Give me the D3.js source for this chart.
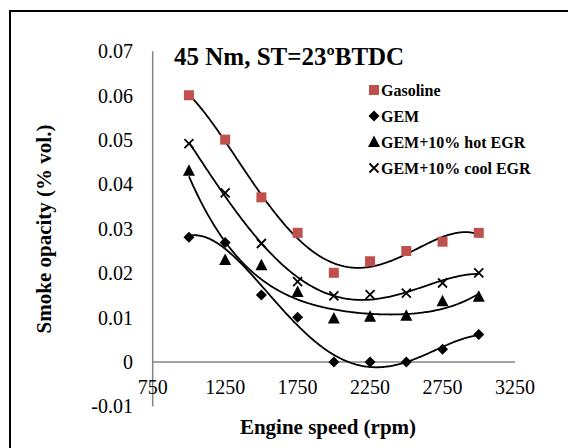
<!DOCTYPE html>
<html><head><meta charset="utf-8">
<script src="https://cdn.jsdelivr.net/npm/d3@7"></script>
<style>
html,body{margin:0;padding:0;background:#fff;}
svg{display:block;font-family:"Liberation Serif","Times New Roman",serif;}
</style></head>
<body><svg id="c" width="568" height="448"></svg>
<script>
const speeds = [1000,1250,1500,1750,2000,2250,2500,2750,3000];
const gasoline = [0.0601,0.0501,0.0371,0.0291,0.0201,0.0227,0.0250,0.0271,0.0291];
const gem      = [0.0281,0.0269,0.0151,0.0101,0.0000,0.0000,0.0000,0.0029,0.0062];
const hotEGR   = [0.0431,0.0230,0.0218,0.0158,0.0098,0.0102,0.0104,0.0137,0.0147];
const coolEGR  = [0.0492,0.0381,0.0267,0.0181,0.0149,0.0152,0.0155,0.0178,0.0201];
const seriesNames = ["Gasoline","GEM","GEM+10% hot EGR","GEM+10% cool EGR"];
const xTicks = [750,1250,1750,2250,2750,3250];
const yTicks = [-0.01,0,0.01,0.02,0.03,0.04,0.05,0.06,0.07];
const yTickLabels = ["-0.01","0","0.01","0.02","0.03","0.04","0.05","0.06","0.07"];
const title = "45 Nm, ST=23ºBTDC";
const xTitle = "Engine speed (rpm)";
const yTitle = "Smoke opacity (% vol.)";

const series = [
  {name:seriesNames[0], values:gasoline, marker:"square", color:"#C0504D"},
  {name:seriesNames[1], values:gem, marker:"diamond", color:"#000"},
  {name:seriesNames[2], values:hotEGR, marker:"triangle", color:"#000"},
  {name:seriesNames[3], values:coolEGR, marker:"cross", color:"#000"}
];

const svg = d3.select("#c");
svg.append("rect").attr("x",10).attr("y",11).attr("width",700).attr("height",600)
  .attr("fill","none").attr("stroke","#000").attr("stroke-width",2);

const x = d3.scaleLinear().domain([750,3250]).range([152.7,515]);
const y = d3.scaleLinear().domain([-0.01,0.07]).range([406.4,51.3]);

// axes
svg.append("line").attr("x1",x(750)).attr("x2",x(750)).attr("y1",y(0.07)).attr("y2",y(-0.01))
  .attr("stroke","#868686").attr("stroke-width",1.5);
svg.append("line").attr("x1",x(750)).attr("x2",x(3250)).attr("y1",y(0)).attr("y2",y(0))
  .attr("stroke","#868686").attr("stroke-width",1.5);

svg.selectAll(".yl").data(yTicks).enter().append("text")
  .attr("x",133).attr("y",d=>y(d)).attr("dy","0.35em").attr("text-anchor","end")
  .attr("font-size",20).text((d,i)=>yTickLabels[i]);
svg.selectAll(".xl").data(xTicks).enter().append("text")
  .attr("x",d=>x(d)).attr("y",394).attr("text-anchor","middle")
  .attr("font-size",20).text(d=>d);

svg.append("text").attr("x",328).attr("y",434).attr("text-anchor","middle")
  .attr("font-size",21).attr("font-weight","bold").text(xTitle);
svg.append("text").attr("transform","translate(51,229) rotate(-90)").attr("text-anchor","middle")
  .attr("font-size",21).attr("font-weight","bold").text(yTitle);
svg.append("text").attr("x",174).attr("y",65).attr("font-size",25).attr("font-weight","bold").text(title);

// polynomial least squares fit
function polyfit(xs, ys, order){
  const m = d3.mean(xs), s = d3.deviation(xs);
  const t = xs.map(v=>(v-m)/s);
  const n = order+1;
  const A = Array.from({length:n},()=>new Array(n+1).fill(0));
  for(let r=0;r<n;r++){
    for(let c=0;c<n;c++) A[r][c] = d3.sum(t, v=>Math.pow(v,r+c));
    A[r][n] = d3.sum(t, (v,i)=>Math.pow(v,r)*ys[i]);
  }
  for(let i=0;i<n;i++){
    let p=i; for(let k=i+1;k<n;k++) if(Math.abs(A[k][i])>Math.abs(A[p][i])) p=k;
    [A[i],A[p]]=[A[p],A[i]];
    for(let k=i+1;k<n;k++){ const f=A[k][i]/A[i][i]; for(let j=i;j<=n;j++) A[k][j]-=f*A[i][j]; }
  }
  const c=new Array(n).fill(0);
  for(let i=n-1;i>=0;i--){ let sm=A[i][n]; for(let j=i+1;j<n;j++) sm-=A[i][j]*c[j]; c[i]=sm/A[i][i]; }
  return v=>{ const tt=(v-m)/s; let r=0; for(let i=n-1;i>=0;i--) r=r*tt+c[i]; return r; };
}

const line = d3.line().x(d=>x(d[0])).y(d=>y(d[1])).curve(d3.curveLinear);
const fine = d3.range(1000,3000.1,10);
series.forEach(sr=>{
  const f = polyfit(speeds, sr.values, 4);
  svg.append("path").attr("d", line(fine.map(v=>[v,f(v)])))
    .attr("fill","none").attr("stroke","#000").attr("stroke-width",1.8);
});

function drawMarker(g, type, cx, cy, color){
  if(type==="square") g.append("rect").attr("x",cx-5).attr("y",cy-5).attr("width",10).attr("height",10).attr("fill",color);
  else if(type==="diamond") g.append("path").attr("d",`M${cx},${cy-5.5}L${cx+5.5},${cy}L${cx},${cy+5.5}L${cx-5.5},${cy}Z`).attr("fill",color);
  else if(type==="triangle") g.append("path").attr("d",`M${cx},${cy-6.5}L${cx+6},${cy+5}L${cx-6},${cy+5}Z`).attr("fill",color);
  else g.append("path").attr("d",`M${cx-4.5},${cy-4.5}L${cx+4.5},${cy+4.5}M${cx+4.5},${cy-4.5}L${cx-4.5},${cy+4.5}`).attr("stroke",color).attr("stroke-width",1.8);
}
series.forEach(sr=>{
  const g = svg.append("g");
  sr.values.forEach((v,i)=>drawMarker(g, sr.marker, x(speeds[i]), y(v), sr.color));
});

// legend
series.forEach((sr,i)=>{
  const ly = 90 + i*26;
  drawMarker(svg, sr.marker, 374, ly, sr.color);
  svg.append("text").attr("x",381).attr("y",ly).attr("dy","0.35em").attr("font-size",16)
    .attr("font-weight","bold").text(sr.name);
});
</script></body></html>
